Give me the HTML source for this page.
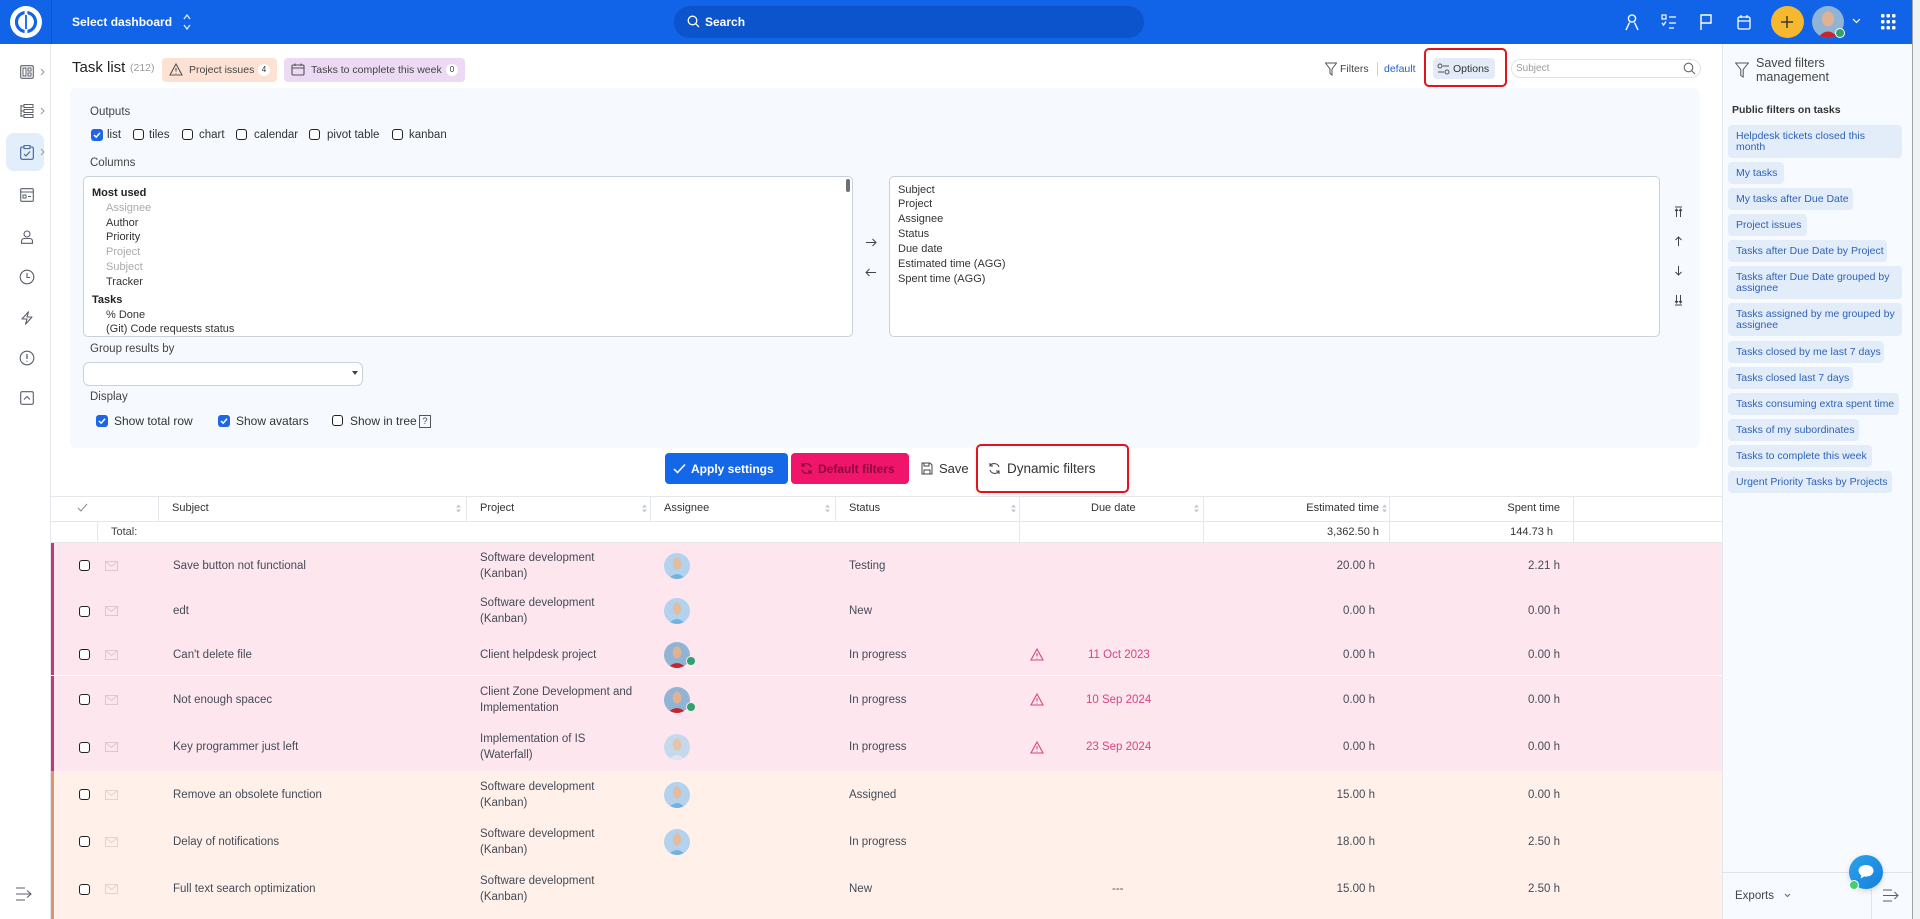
<!DOCTYPE html>
<html><head><meta charset="utf-8">
<style>
*{box-sizing:border-box;margin:0;padding:0}
html,body{width:1920px;height:919px;overflow:hidden;background:#fff}
body{position:relative;font-family:"Liberation Sans",Arial,sans-serif;color:#333}
.a{position:absolute;white-space:nowrap}
.t{position:absolute;white-space:nowrap;line-height:14px}
.cb{position:absolute;width:11px;height:11px;border:1.3px solid #222;border-radius:3px;background:#fff}
.cbc{position:absolute;width:12px;height:12px;border-radius:3px;background:#1e66e3}
.cbc svg{position:absolute;left:2px;top:2px}
.row{position:absolute;left:0;width:1722px;font-size:11.5px;color:#454b57}
.pink{background:#fde6ee}
.peach{background:#fff0ea}
.lb{position:absolute;left:51px;top:0;bottom:0;width:3px}
.c{position:absolute;top:0;bottom:0;display:flex;align-items:center;white-space:nowrap}
.r{justify-content:flex-end}
.av{width:26px;height:26px;border-radius:50%;overflow:hidden;position:relative}
.hd{position:absolute;font-size:11px;color:#333;top:501px;line-height:14px;white-space:nowrap}
.vl{position:absolute;width:1px;background:#e4e7eb}
.chip{position:absolute;left:1728px;background:#e3edfa;border-radius:4px;color:#2f62b8;font-size:10.5px;padding-left:8px;line-height:11px;white-space:nowrap}
.chip1{height:22px;padding-top:5.5px}
.chip2{height:33px;padding-top:6px}
.lst{position:absolute;font-size:11px;line-height:14px;white-space:nowrap;color:#333}
.gr{color:#aaa}
.sb svg{position:absolute}
</style></head><body>

<!-- TOP BAR -->
<div class="a" style="left:0;top:0;width:1912px;height:44px;background:#1164e8"></div>
<svg class="a" style="left:10px;top:6px" width="32" height="32" viewBox="0 0 32 32"><circle cx="16" cy="16" r="16" fill="#fff"/><circle cx="16" cy="16" r="9.5" fill="none" stroke="#1164e8" stroke-width="3.2"/><rect x="14.6" y="5" width="2.8" height="22" fill="#fff"/><rect x="15.1" y="9" width="1.8" height="14" fill="#1164e8"/></svg>
<div class="a" style="left:51px;top:0;width:1px;height:44px;background:rgba(0,0,0,.12)"></div>
<div class="t" style="left:72px;top:15px;font-size:12px;font-weight:bold;color:#fff">Select dashboard</div>
<svg class="a" style="left:182px;top:12px" width="10" height="20" viewBox="0 0 10 20"><path d="M2 7 L5 3 L8 7 M2 13 L5 17 L8 13" fill="none" stroke="#dfe9ff" stroke-width="1.3"/></svg>
<div class="a" style="left:674px;top:6px;width:470px;height:32px;border-radius:16px;background:#0c54cb"></div>
<svg class="a" style="left:687px;top:15px" width="13" height="13" viewBox="0 0 13 13"><circle cx="5.5" cy="5.5" r="4.3" fill="none" stroke="#fff" stroke-width="1.3"/><path d="M8.6 8.6 L12 12" stroke="#fff" stroke-width="1.3"/></svg>
<div class="t" style="left:705px;top:15px;font-size:12px;font-weight:bold;color:#fff">Search</div>
<!-- top icons -->
<svg class="a" style="left:1623px;top:13px" width="18" height="18" viewBox="0 0 18 18"><circle cx="9" cy="5.5" r="3.6" fill="none" stroke="#fff" stroke-width="1.4"/><path d="M3 17 L6.5 9.5 M15 17 L11.5 9.5" fill="none" stroke="#fff" stroke-width="1.4"/></svg>
<svg class="a" style="left:1660px;top:13px" width="18" height="18" viewBox="0 0 18 18"><rect x="2" y="2" width="4" height="4" fill="none" stroke="#fff" stroke-width="1.2"/><path d="M9 4 H16 M9 10 H16 M9 15 H14 M2 10 L3.5 12 L6 8.5" fill="none" stroke="#fff" stroke-width="1.3"/></svg>
<svg class="a" style="left:1697px;top:13px" width="18" height="18" viewBox="0 0 18 18"><path d="M4 17 V2 H14 V10 H4" fill="none" stroke="#fff" stroke-width="1.4"/></svg>
<svg class="a" style="left:1735px;top:13px" width="18" height="18" viewBox="0 0 18 18"><rect x="3" y="4" width="12" height="12" rx="1.5" fill="none" stroke="#fff" stroke-width="1.3"/><path d="M3 8 H15 M6 2 V5 M12 2 V5" stroke="#fff" stroke-width="1.3"/></svg>
<div class="a" style="left:1771px;top:6px;width:33px;height:32px;border-radius:50%;background:#f5b82e"></div>
<svg class="a" style="left:1779px;top:14px" width="16" height="16" viewBox="0 0 16 16"><path d="M8 2 V14 M2 8 H14" stroke="#3a3a3a" stroke-width="1.5"/></svg>
<div class="a" style="left:1812px;top:6px;width:32px;height:32px;border-radius:50%;overflow:hidden;background:#8fb4d6"><svg width="32" height="32" viewBox="0 0 32 32"><ellipse cx="16" cy="13" rx="6" ry="7.5" fill="#e0b294"/><path d="M4 34 Q16 17 28 34Z" fill="#c7242c"/></svg></div>
<div class="a" style="left:1835px;top:28px;width:10px;height:10px;border-radius:50%;background:#2fa36b;border:1px solid #fff"></div>
<svg class="a" style="left:1852px;top:18px" width="9" height="6" viewBox="0 0 9 6"><path d="M1 1 L4.5 4.5 L8 1" fill="none" stroke="#fff" stroke-width="1.2"/></svg>
<svg class="a" style="left:1881px;top:14px" width="15" height="16" viewBox="0 0 15 16"><g fill="#fff"><rect x="0" y="0" width="3.5" height="3.5" rx="1"/><rect x="5.5" y="0" width="3.5" height="3.5" rx="1"/><rect x="11" y="0" width="3.5" height="3.5" rx="1"/><rect x="0" y="6" width="3.5" height="3.5" rx="1"/><rect x="5.5" y="6" width="3.5" height="3.5" rx="1"/><rect x="11" y="6" width="3.5" height="3.5" rx="1"/><rect x="0" y="12" width="3.5" height="3.5" rx="1"/><rect x="5.5" y="12" width="3.5" height="3.5" rx="1"/><rect x="11" y="12" width="3.5" height="3.5" rx="1"/></g></svg>
<!-- scrollbar strip -->
<div class="a" style="left:1912px;top:0;width:8px;height:919px;background:#f1f2f4;border-left:1px solid #9ea3aa"></div>

<!-- HEADER -->
<div class="a" style="left:72px;top:59px;font-size:15px;color:#222;line-height:18px">Task list</div>
<div class="a" style="left:130px;top:62px;font-size:10.5px;color:#9a9a9a;line-height:12px">(212)</div>
<div class="a" style="left:162px;top:58px;width:115px;height:24px;background:#fde2d4;border-radius:4px"></div>
<svg class="a" style="left:169px;top:63px" width="14" height="13" viewBox="0 0 14 13"><path d="M7 1 L13 12 H1 Z M7 5 V8.5 M7 10 V10.6" fill="none" stroke="#555" stroke-width="1.1"/></svg>
<div class="t" style="left:189px;top:63px;font-size:10.5px;color:#444">Project issues</div>
<div class="a" style="left:258px;top:64px;width:12px;height:12px;border-radius:50%;background:#fff;font-size:8px;line-height:12px;text-align:center;color:#333">4</div>
<div class="a" style="left:284px;top:58px;width:181px;height:24px;background:#ecdaf4;border-radius:4px"></div>
<svg class="a" style="left:291px;top:63px" width="14" height="13" viewBox="0 0 14 13"><rect x="1" y="2" width="12" height="10" rx="1" fill="none" stroke="#555" stroke-width="1.1"/><path d="M1 5 H13 M4 0.5 V3 M10 0.5 V3" stroke="#555" stroke-width="1.1"/></svg>
<div class="t" style="left:311px;top:63px;font-size:10.5px;color:#444">Tasks to complete this week</div>
<div class="a" style="left:446px;top:64px;width:12px;height:12px;border-radius:50%;background:#fff;font-size:8px;line-height:12px;text-align:center;color:#333">0</div>

<svg class="a" style="left:1325px;top:62px" width="12" height="14" viewBox="0 0 12 14"><path d="M0.5 1 H11.5 L7 7 V13 L5 11.5 V7 Z" fill="none" stroke="#555" stroke-width="1"/></svg>
<div class="t" style="left:1340px;top:62px;font-size:10.5px;color:#444">Filters</div>
<div class="a" style="left:1377px;top:62px;width:1px;height:14px;background:#ccd2da"></div>
<div class="t" style="left:1384px;top:62px;font-size:10.5px;color:#1f5fcf">default</div>
<div class="a" style="left:1424px;top:48px;width:83px;height:39px;border:2px solid #e0141c;border-radius:5px"></div>
<div class="a" style="left:1433px;top:58px;width:62px;height:21px;background:#e2ebf7;border-radius:4px"></div>
<svg class="a" style="left:1437px;top:63px" width="13" height="12" viewBox="0 0 13 12"><circle cx="3" cy="3" r="2" fill="none" stroke="#555"/><circle cx="10" cy="9" r="2" fill="none" stroke="#555"/><path d="M6 3 H12 M1 9 H7" stroke="#555"/></svg>
<div class="t" style="left:1453px;top:62px;font-size:10.5px;color:#333">Options</div>
<div class="a" style="left:1511px;top:59px;width:190px;height:19px;border:1px solid #dfe3e8;border-radius:10px;background:#fff"></div>
<div class="t" style="left:1516px;top:62px;font-size:10px;color:#9a9a9a">Subject</div>
<svg class="a" style="left:1683px;top:62px" width="13" height="13" viewBox="0 0 13 13"><circle cx="5.5" cy="5.5" r="4.3" fill="none" stroke="#666" stroke-width="1.1"/><path d="M8.6 8.6 L12 12" stroke="#666" stroke-width="1.1"/></svg>

<!-- OPTIONS PANEL -->
<div class="a" style="left:70px;top:88px;width:1630px;height:360px;background:#f6f9fd;border-radius:6px"></div>
<div class="t" style="left:90px;top:105px;font-size:11.5px;color:#444">Outputs</div>
<div class="cbc" style="left:91px;top:129px"><svg width="8" height="8" viewBox="0 0 8 8"><path d="M1 4 L3.2 6.2 L7 1.8" fill="none" stroke="#fff" stroke-width="1.5"/></svg></div>
<div class="t" style="left:107px;top:128px;font-size:11.5px">list</div>
<div class="cb" style="left:133px;top:129px"></div><div class="t" style="left:149px;top:128px;font-size:11.5px">tiles</div>
<div class="cb" style="left:182px;top:129px"></div><div class="t" style="left:199px;top:128px;font-size:11.5px">chart</div>
<div class="cb" style="left:236px;top:129px"></div><div class="t" style="left:254px;top:128px;font-size:11.5px">calendar</div>
<div class="cb" style="left:309px;top:129px"></div><div class="t" style="left:327px;top:128px;font-size:11.5px">pivot table</div>
<div class="cb" style="left:392px;top:129px"></div><div class="t" style="left:409px;top:128px;font-size:11.5px">kanban</div>

<div class="t" style="left:90px;top:156px;font-size:11.5px;color:#444">Columns</div>
<div class="a" style="left:83px;top:176px;width:770px;height:161px;background:#fff;border:1px solid #c9d1db;border-radius:5px"></div>
<div class="a" style="left:846px;top:179px;width:4px;height:13px;background:#6b6f76;border-radius:2px"></div>
<div class="lst" style="left:92px;top:186px;font-weight:bold;color:#222">Most used</div>
<div class="lst gr" style="left:106px;top:201px">Assignee</div>
<div class="lst" style="left:106px;top:216px">Author</div>
<div class="lst" style="left:106px;top:230px">Priority</div>
<div class="lst gr" style="left:106px;top:245px">Project</div>
<div class="lst gr" style="left:106px;top:260px">Subject</div>
<div class="lst" style="left:106px;top:275px">Tracker</div>
<div class="lst" style="left:92px;top:293px;font-weight:bold;color:#222">Tasks</div>
<div class="lst" style="left:106px;top:308px">% Done</div>
<div class="lst" style="left:106px;top:322px">(Git) Code requests status</div>

<svg class="a" style="left:865px;top:238px" width="12" height="9" viewBox="0 0 12 9"><path d="M1 4.5 H11 M7.5 1 L11 4.5 L7.5 8" fill="none" stroke="#444" stroke-width="1"/></svg>
<svg class="a" style="left:865px;top:268px" width="12" height="9" viewBox="0 0 12 9"><path d="M1 4.5 H11 M4.5 1 L1 4.5 L4.5 8" fill="none" stroke="#444" stroke-width="1"/></svg>

<div class="a" style="left:889px;top:176px;width:771px;height:161px;background:#fff;border:1px solid #c9d1db;border-radius:5px"></div>
<div class="lst" style="left:898px;top:183px">Subject</div>
<div class="lst" style="left:898px;top:197px">Project</div>
<div class="lst" style="left:898px;top:212px">Assignee</div>
<div class="lst" style="left:898px;top:227px">Status</div>
<div class="lst" style="left:898px;top:242px">Due date</div>
<div class="lst" style="left:898px;top:257px">Estimated time (AGG)</div>
<div class="lst" style="left:898px;top:272px">Spent time (AGG)</div>

<svg class="a" style="left:1674px;top:206px" width="9" height="12" viewBox="0 0 9 12"><path d="M1 1 H8 M2.5 11 V3 M6.5 11 V3 M1 5 L2.5 3 L4 5 M5 5 L6.5 3 L8 5" fill="none" stroke="#444" stroke-width="1"/></svg>
<svg class="a" style="left:1674px;top:235px" width="9" height="12" viewBox="0 0 9 12"><path d="M4.5 11 V2 M1.5 5 L4.5 2 L7.5 5" fill="none" stroke="#444" stroke-width="1"/></svg>
<svg class="a" style="left:1674px;top:265px" width="9" height="12" viewBox="0 0 9 12"><path d="M4.5 1 V10 M1.5 7 L4.5 10 L7.5 7" fill="none" stroke="#444" stroke-width="1"/></svg>
<svg class="a" style="left:1674px;top:294px" width="9" height="12" viewBox="0 0 9 12"><path d="M1 11 H8 M2.5 1 V9 M6.5 1 V9 M1 7 L2.5 9 L4 7 M5 7 L6.5 9 L8 7" fill="none" stroke="#444" stroke-width="1"/></svg>

<div class="t" style="left:90px;top:342px;font-size:11.5px;color:#444">Group results by</div>
<div class="a" style="left:83px;top:362px;width:280px;height:24px;background:#fff;border:1px solid #c9d1db;border-radius:6px"></div>
<svg class="a" style="left:352px;top:371px" width="6" height="4" viewBox="0 0 6 4"><path d="M0 0 H6 L3 4Z" fill="#444"/></svg>
<div class="t" style="left:90px;top:390px;font-size:11.5px;color:#444">Display</div>
<div class="cbc" style="left:96px;top:415px"><svg width="8" height="8" viewBox="0 0 8 8"><path d="M1 4 L3.2 6.2 L7 1.8" fill="none" stroke="#fff" stroke-width="1.5"/></svg></div>
<div class="t" style="left:114px;top:414px;font-size:12px">Show total row</div>
<div class="cbc" style="left:218px;top:415px"><svg width="8" height="8" viewBox="0 0 8 8"><path d="M1 4 L3.2 6.2 L7 1.8" fill="none" stroke="#fff" stroke-width="1.5"/></svg></div>
<div class="t" style="left:236px;top:414px;font-size:12px">Show avatars</div>
<div class="cb" style="left:332px;top:415px"></div>
<div class="t" style="left:350px;top:414px;font-size:12px">Show in tree</div>
<div class="a" style="left:419px;top:415px;width:12px;height:13px;border:1px solid #555;font-size:9px;line-height:11px;text-align:center;color:#444">?</div>

<!-- BUTTONS -->
<div class="a" style="left:665px;top:453px;width:123px;height:31px;background:#1367e8;border-radius:4px"></div>
<svg class="a" style="left:673px;top:463px" width="13" height="11" viewBox="0 0 13 11"><path d="M1 6 L4.5 9.5 L12 1.5" fill="none" stroke="#fff" stroke-width="1.5"/></svg>
<div class="t" style="left:691px;top:462px;font-size:12px;font-weight:bold;color:#fff">Apply settings</div>
<div class="a" style="left:791px;top:453px;width:118px;height:31px;background:#f0156b;border-radius:4px"></div>
<svg class="a" style="left:800px;top:462px" width="13" height="13" viewBox="0 0 13 13"><path d="M11 5 A5 5 0 0 0 2 4 M2 8 A5 5 0 0 0 11 9 M2 1 V4 H5 M11 12 V9 H8" fill="none" stroke="#8a0c3c" stroke-width="1.2"/></svg>
<div class="t" style="left:818px;top:462px;font-size:12px;font-weight:bold;color:#8a0c3c">Default filters</div>
<svg class="a" style="left:921px;top:462px" width="12" height="13" viewBox="0 0 12 13"><path d="M1 1 H9 L11 3 V12 H1 Z M3 1 V4 H8 V1 M3 12 V8 H9 V12" fill="none" stroke="#444" stroke-width="1"/></svg>
<div class="t" style="left:939px;top:462px;font-size:13px;color:#333">Save</div>
<div class="a" style="left:976px;top:444px;width:153px;height:49px;border:2px solid #e0141c;border-radius:5px;box-shadow:0 2px 6px rgba(0,0,0,.08)"></div>
<svg class="a" style="left:988px;top:462px" width="13" height="13" viewBox="0 0 13 13"><path d="M11 5 A5 5 0 0 0 2 4 M2 8 A5 5 0 0 0 11 9 M2 1 V4 H5 M11 12 V9 H8" fill="none" stroke="#444" stroke-width="1.1"/></svg>
<div class="t" style="left:1007px;top:462px;font-size:13.5px;color:#333">Dynamic filters</div>

<!-- TABLE HEADER -->
<div class="a" style="left:51px;top:496px;width:1671px;height:47px;border-top:1px solid #e4e7eb;background:#fff"></div>
<div class="a" style="left:51px;top:521px;width:1671px;height:1px;background:#e4e7eb"></div>
<div class="a" style="left:51px;top:542px;width:1671px;height:1px;background:#e4e7eb"></div>
<div class="vl" style="left:158px;top:497px;height:24px"></div>
<div class="vl" style="left:466px;top:497px;height:24px"></div>
<div class="vl" style="left:650px;top:497px;height:24px"></div>
<div class="vl" style="left:835px;top:497px;height:24px"></div>
<div class="vl" style="left:1019px;top:497px;height:45px"></div>
<div class="vl" style="left:1203px;top:497px;height:45px"></div>
<div class="vl" style="left:1389px;top:497px;height:45px"></div>
<div class="vl" style="left:1573px;top:497px;height:45px"></div>
<div class="vl" style="left:97px;top:522px;height:20px"></div>
<svg class="a" style="left:77px;top:503px" width="11" height="9" viewBox="0 0 11 9"><path d="M1 5 L4 8 L10 1" fill="none" stroke="#888" stroke-width="1"/></svg>
<div class="hd" style="left:172px">Subject</div>
<div class="hd" style="left:480px">Project</div>
<div class="hd" style="left:664px">Assignee</div>
<div class="hd" style="left:849px">Status</div>
<div class="hd" style="left:1091px">Due date</div>
<div class="hd" style="left:1259px;width:120px;text-align:right">Estimated time</div>
<div class="hd" style="left:1440px;width:120px;text-align:right">Spent time</div>
<svg class="a" style="left:456px;top:504px" width="5" height="9" viewBox="0 0 5 9"><path d="M0 3.5 L2.5 0.5 L5 3.5Z M0 5.5 L2.5 8.5 L5 5.5Z" fill="#c3c7cd"/></svg>
<svg class="a" style="left:642px;top:504px" width="5" height="9" viewBox="0 0 5 9"><path d="M0 3.5 L2.5 0.5 L5 3.5Z M0 5.5 L2.5 8.5 L5 5.5Z" fill="#c3c7cd"/></svg>
<svg class="a" style="left:825px;top:504px" width="5" height="9" viewBox="0 0 5 9"><path d="M0 3.5 L2.5 0.5 L5 3.5Z M0 5.5 L2.5 8.5 L5 5.5Z" fill="#c3c7cd"/></svg>
<svg class="a" style="left:1011px;top:504px" width="5" height="9" viewBox="0 0 5 9"><path d="M0 3.5 L2.5 0.5 L5 3.5Z M0 5.5 L2.5 8.5 L5 5.5Z" fill="#c3c7cd"/></svg>
<svg class="a" style="left:1194px;top:504px" width="5" height="9" viewBox="0 0 5 9"><path d="M0 3.5 L2.5 0.5 L5 3.5Z M0 5.5 L2.5 8.5 L5 5.5Z" fill="#c3c7cd"/></svg>
<svg class="a" style="left:1382px;top:504px" width="5" height="9" viewBox="0 0 5 9"><path d="M0 3.5 L2.5 0.5 L5 3.5Z M0 5.5 L2.5 8.5 L5 5.5Z" fill="#c3c7cd"/></svg>
<div class="t" style="left:111px;top:525px;font-size:11px;color:#444">Total:</div>
<div class="t" style="left:1259px;width:120px;text-align:right;top:525px;font-size:11px;color:#333">3,362.50 h</div>
<div class="t" style="left:1433px;width:120px;text-align:right;top:525px;font-size:11px;color:#333">144.73 h</div>

<!-- ROWS -->
<!-- row 1 -->
<div class="row pink" style="top:543px;height:45px">
 <div class="lb" style="background:#c0397a"></div>
 <div class="c" style="left:79px"><span class="cb" style="position:static;display:block"></span></div>
 <div class="c" style="left:105px"><svg width="13" height="10" viewBox="0 0 13 10"><rect x="0.5" y="0.5" width="12" height="9" fill="none" stroke="#dcc9d0"/><path d="M0.5 0.5 L6.5 5.5 L12.5 0.5" fill="none" stroke="#dcc9d0"/></svg></div>
 <div class="c" style="left:173px">Save button not functional</div>
 <div class="c" style="left:480px;line-height:16px">Software development<br>(Kanban)</div>
 <div class="c" style="left:664px"><div class="av"><svg width="26" height="26" viewBox="0 0 26 26"><rect width="26" height="26" fill="#b3d2ee"/><ellipse cx="13" cy="10.5" rx="4.2" ry="6" fill="#e2bc9f"/><path d="M3 28 Q13 14 23 28Z" fill="#74b2de"/></svg></div></div>
 <div class="c" style="left:849px">Testing</div>
 <div class="c r" style="right:347px">20.00 h</div>
 <div class="c r" style="right:162px">2.21 h</div>
</div>
<!-- row 2 -->
<div class="row pink" style="top:588px;height:46px">
 <div class="lb" style="background:#c0397a"></div>
 <div class="c" style="left:79px"><span class="cb" style="position:static;display:block"></span></div>
 <div class="c" style="left:105px"><svg width="13" height="10" viewBox="0 0 13 10"><rect x="0.5" y="0.5" width="12" height="9" fill="none" stroke="#dcc9d0"/><path d="M0.5 0.5 L6.5 5.5 L12.5 0.5" fill="none" stroke="#dcc9d0"/></svg></div>
 <div class="c" style="left:173px">edt</div>
 <div class="c" style="left:480px;line-height:16px">Software development<br>(Kanban)</div>
 <div class="c" style="left:664px"><div class="av"><svg width="26" height="26" viewBox="0 0 26 26"><rect width="26" height="26" fill="#b3d2ee"/><ellipse cx="13" cy="10.5" rx="4.2" ry="6" fill="#e2bc9f"/><path d="M3 28 Q13 14 23 28Z" fill="#74b2de"/></svg></div></div>
 <div class="c" style="left:849px">New</div>
 <div class="c r" style="right:347px">0.00 h</div>
 <div class="c r" style="right:162px">0.00 h</div>
</div>
<!-- row 3 -->
<div class="row pink" style="top:634px;height:41px">
 <div class="lb" style="background:#c0397a"></div>
 <div class="c" style="left:79px"><span class="cb" style="position:static;display:block"></span></div>
 <div class="c" style="left:105px"><svg width="13" height="10" viewBox="0 0 13 10"><rect x="0.5" y="0.5" width="12" height="9" fill="none" stroke="#dcc9d0"/><path d="M0.5 0.5 L6.5 5.5 L12.5 0.5" fill="none" stroke="#dcc9d0"/></svg></div>
 <div class="c" style="left:173px">Can't delete file</div>
 <div class="c" style="left:480px">Client helpdesk project</div>
 <div class="c" style="left:664px"><div class="av"><svg width="26" height="26" viewBox="0 0 26 26"><rect width="26" height="26" fill="#8fb4d6"/><ellipse cx="13" cy="10.5" rx="4.4" ry="6" fill="#e0b294"/><path d="M2 28 Q13 14 24 28Z" fill="#c7242c"/></svg></div></div>
 <div class="c" style="left:686px;top:12px"><span style="display:block;width:10px;height:10px;border-radius:50%;background:#2fa36b;border:1px solid #fde6ee"></span></div>
 <div class="c" style="left:849px">In progress</div>
 <div class="c" style="left:1030px"><svg width="14" height="13" viewBox="0 0 14 13"><path d="M7 1 L13 12 H1 Z M7 5 V8.5 M7 10 V10.6" fill="none" stroke="#d6457f" stroke-width="1.1"/></svg></div>
 <div class="c" style="left:1088px;color:#d6457f">11 Oct 2023</div>
 <div class="c r" style="right:347px">0.00 h</div>
 <div class="c r" style="right:162px">0.00 h</div>
</div>
<div class="a" style="left:51px;top:675px;width:1671px;height:1px;background:#fff"></div>
<!-- row 4 -->
<div class="row pink" style="top:676px;height:47px">
 <div class="lb" style="background:#c0397a"></div>
 <div class="c" style="left:79px"><span class="cb" style="position:static;display:block"></span></div>
 <div class="c" style="left:105px"><svg width="13" height="10" viewBox="0 0 13 10"><rect x="0.5" y="0.5" width="12" height="9" fill="none" stroke="#dcc9d0"/><path d="M0.5 0.5 L6.5 5.5 L12.5 0.5" fill="none" stroke="#dcc9d0"/></svg></div>
 <div class="c" style="left:173px">Not enough spacec</div>
 <div class="c" style="left:480px;line-height:16px">Client Zone Development and<br>Implementation</div>
 <div class="c" style="left:664px"><div class="av"><svg width="26" height="26" viewBox="0 0 26 26"><rect width="26" height="26" fill="#8fb4d6"/><ellipse cx="13" cy="10.5" rx="4.4" ry="6" fill="#e0b294"/><path d="M2 28 Q13 14 24 28Z" fill="#c7242c"/></svg></div></div>
 <div class="c" style="left:686px;top:14px"><span style="display:block;width:10px;height:10px;border-radius:50%;background:#2fa36b;border:1px solid #fde6ee"></span></div>
 <div class="c" style="left:849px">In progress</div>
 <div class="c" style="left:1030px"><svg width="14" height="13" viewBox="0 0 14 13"><path d="M7 1 L13 12 H1 Z M7 5 V8.5 M7 10 V10.6" fill="none" stroke="#d6457f" stroke-width="1.1"/></svg></div>
 <div class="c" style="left:1086px;color:#d6457f">10 Sep 2024</div>
 <div class="c r" style="right:347px">0.00 h</div>
 <div class="c r" style="right:162px">0.00 h</div>
</div>
<!-- row 5 -->
<div class="row pink" style="top:723px;height:48px">
 <div class="lb" style="background:#c0397a"></div>
 <div class="c" style="left:79px"><span class="cb" style="position:static;display:block"></span></div>
 <div class="c" style="left:105px"><svg width="13" height="10" viewBox="0 0 13 10"><rect x="0.5" y="0.5" width="12" height="9" fill="none" stroke="#dcc9d0"/><path d="M0.5 0.5 L6.5 5.5 L12.5 0.5" fill="none" stroke="#dcc9d0"/></svg></div>
 <div class="c" style="left:173px">Key programmer just left</div>
 <div class="c" style="left:480px;line-height:16px">Implementation of IS<br>(Waterfall)</div>
 <div class="c" style="left:664px"><div class="av"><svg width="26" height="26" viewBox="0 0 26 26"><rect width="26" height="26" fill="#c5d9ec"/><ellipse cx="13" cy="10.5" rx="4.3" ry="6" fill="#e7c3a8"/><path d="M3 28 Q13 14 23 28Z" fill="#dde6ef"/></svg></div></div>
 <div class="c" style="left:849px">In progress</div>
 <div class="c" style="left:1030px"><svg width="14" height="13" viewBox="0 0 14 13"><path d="M7 1 L13 12 H1 Z M7 5 V8.5 M7 10 V10.6" fill="none" stroke="#d6457f" stroke-width="1.1"/></svg></div>
 <div class="c" style="left:1086px;color:#d6457f">23 Sep 2024</div>
 <div class="c r" style="right:347px">0.00 h</div>
 <div class="c r" style="right:162px">0.00 h</div>
</div>
<!-- row 6 -->
<div class="row peach" style="top:771px;height:47px">
 <div class="lb" style="background:#de946f"></div>
 <div class="c" style="left:79px"><span class="cb" style="position:static;display:block"></span></div>
 <div class="c" style="left:105px"><svg width="13" height="10" viewBox="0 0 13 10"><rect x="0.5" y="0.5" width="12" height="9" fill="none" stroke="#e3d3cc"/><path d="M0.5 0.5 L6.5 5.5 L12.5 0.5" fill="none" stroke="#e3d3cc"/></svg></div>
 <div class="c" style="left:173px">Remove an obsolete function</div>
 <div class="c" style="left:480px;line-height:16px">Software development<br>(Kanban)</div>
 <div class="c" style="left:664px"><div class="av"><svg width="26" height="26" viewBox="0 0 26 26"><rect width="26" height="26" fill="#b3d2ee"/><ellipse cx="13" cy="10.5" rx="4.2" ry="6" fill="#e2bc9f"/><path d="M3 28 Q13 14 23 28Z" fill="#74b2de"/></svg></div></div>
 <div class="c" style="left:849px">Assigned</div>
 <div class="c r" style="right:347px">15.00 h</div>
 <div class="c r" style="right:162px">0.00 h</div>
</div>
<!-- row 7 -->
<div class="row peach" style="top:818px;height:47px">
 <div class="lb" style="background:#de946f"></div>
 <div class="c" style="left:79px"><span class="cb" style="position:static;display:block"></span></div>
 <div class="c" style="left:105px"><svg width="13" height="10" viewBox="0 0 13 10"><rect x="0.5" y="0.5" width="12" height="9" fill="none" stroke="#e3d3cc"/><path d="M0.5 0.5 L6.5 5.5 L12.5 0.5" fill="none" stroke="#e3d3cc"/></svg></div>
 <div class="c" style="left:173px">Delay of notifications</div>
 <div class="c" style="left:480px;line-height:16px">Software development<br>(Kanban)</div>
 <div class="c" style="left:664px"><div class="av"><svg width="26" height="26" viewBox="0 0 26 26"><rect width="26" height="26" fill="#b3d2ee"/><ellipse cx="13" cy="10.5" rx="4.2" ry="6" fill="#e2bc9f"/><path d="M3 28 Q13 14 23 28Z" fill="#74b2de"/></svg></div></div>
 <div class="c" style="left:849px">In progress</div>
 <div class="c r" style="right:347px">18.00 h</div>
 <div class="c r" style="right:162px">2.50 h</div>
</div>
<!-- row 8 -->
<div class="row peach" style="top:865px;height:54px">
 <div class="lb" style="background:#de946f"></div>
 <div style="position:absolute;left:0;top:0;width:1722px;height:48px">
 <div class="c" style="left:79px"><span class="cb" style="position:static;display:block"></span></div>
 <div class="c" style="left:105px"><svg width="13" height="10" viewBox="0 0 13 10"><rect x="0.5" y="0.5" width="12" height="9" fill="none" stroke="#e3d3cc"/><path d="M0.5 0.5 L6.5 5.5 L12.5 0.5" fill="none" stroke="#e3d3cc"/></svg></div>
 <div class="c" style="left:173px">Full text search optimization</div>
 <div class="c" style="left:480px;line-height:16px">Software development<br>(Kanban)</div>
 <div class="c" style="left:849px">New</div>
 <div class="c" style="left:1112px;color:#555">---</div>
 <div class="c r" style="right:347px">15.00 h</div>
 <div class="c r" style="right:162px">2.50 h</div>
 </div>
</div>

<!-- LEFT SIDEBAR -->
<div class="a sb" style="left:0;top:44px;width:51px;height:875px;background:#fff;border-right:1px solid #e5e8ed;z-index:5">
 <div class="a" style="left:6px;top:89px;width:38px;height:38px;background:#e3eefb;border-radius:8px"></div>
 <svg style="left:20px;top:21px" width="14" height="14" viewBox="0 0 14 14"><rect x="0.7" y="0.7" width="12.6" height="12.6" rx="1.5" fill="none" stroke="#5a5f69" stroke-width="1.1"/><rect x="3" y="3" width="3" height="8" fill="none" stroke="#5a5f69"/><rect x="8" y="3" width="3" height="3" fill="none" stroke="#5a5f69"/><rect x="8" y="8" width="3" height="3" fill="none" stroke="#5a5f69"/></svg>
 <svg style="left:20px;top:60px" width="14" height="14" viewBox="0 0 14 14"><path d="M1 1 V13 M1 2 H4 M1 7 H4 M1 12 H4" fill="none" stroke="#5a5f69" stroke-width="1.1"/><rect x="4" y="0.5" width="9" height="3" fill="none" stroke="#5a5f69"/><rect x="4" y="5.5" width="9" height="3" fill="none" stroke="#5a5f69"/><rect x="4" y="10.5" width="9" height="3" fill="none" stroke="#5a5f69"/></svg>
 <svg style="left:20px;top:101px" width="14" height="15" viewBox="0 0 14 15"><rect x="0.7" y="2" width="12.6" height="12.3" rx="1.5" fill="none" stroke="#3d5f9a" stroke-width="1.1"/><rect x="4" y="0.6" width="6" height="3" fill="#e3eefb" stroke="#3d5f9a"/><path d="M4 9 L6 11 L10 6.5" fill="none" stroke="#3d5f9a" stroke-width="1.1"/></svg>
 <svg style="left:20px;top:144px" width="14" height="14" viewBox="0 0 14 14"><rect x="0.7" y="0.7" width="12.6" height="12.6" rx="1" fill="none" stroke="#5a5f69" stroke-width="1.1"/><path d="M0.7 4 H13.3" stroke="#5a5f69"/><rect x="3" y="7" width="3" height="3" fill="none" stroke="#5a5f69"/><path d="M8 8.5 H11" stroke="#5a5f69"/></svg>
 <svg style="left:20px;top:186px" width="14" height="14" viewBox="0 0 14 14"><circle cx="7" cy="4" r="3" fill="none" stroke="#5a5f69" stroke-width="1.1"/><path d="M1.5 13.3 V11.5 Q1.5 8.5 4.5 8.5 H9.5 Q12.5 8.5 12.5 11.5 V13.3 Z" fill="none" stroke="#5a5f69" stroke-width="1.1"/></svg>
 <svg style="left:19px;top:225px" width="16" height="16" viewBox="0 0 16 16"><circle cx="8" cy="8" r="6.8" fill="none" stroke="#5a5f69" stroke-width="1.1"/><path d="M8 4 V8.5 H11" fill="none" stroke="#5a5f69" stroke-width="1.1"/></svg>
 <svg style="left:20px;top:267px" width="14" height="14" viewBox="0 0 14 14"><path d="M8.5 0.8 L2 8 H7 L5.5 13.2 L12 6 H7 Z" fill="none" stroke="#5a5f69" stroke-width="1.1" stroke-linejoin="round"/></svg>
 <svg style="left:19px;top:306px" width="16" height="16" viewBox="0 0 16 16"><circle cx="8" cy="8" r="6.8" fill="none" stroke="#5a5f69" stroke-width="1.1"/><path d="M8 4 V9 M8 10.8 V11.6" stroke="#5a5f69" stroke-width="1.3"/></svg>
 <svg style="left:20px;top:347px" width="14" height="14" viewBox="0 0 14 14"><rect x="0.7" y="0.7" width="12.6" height="12.6" rx="1.5" fill="none" stroke="#5a5f69" stroke-width="1.1"/><path d="M4 8.5 L7 5.5 L10 8.5" fill="none" stroke="#5a5f69" stroke-width="1.1"/></svg>
 <svg style="left:40px;top:24px" width="5" height="8" viewBox="0 0 5 8"><path d="M1 1 L4 4 L1 7" fill="none" stroke="#999"/></svg>
 <svg style="left:40px;top:63px" width="5" height="8" viewBox="0 0 5 8"><path d="M1 1 L4 4 L1 7" fill="none" stroke="#999"/></svg>
 <svg style="left:40px;top:104px" width="5" height="8" viewBox="0 0 5 8"><path d="M1 1 L4 4 L1 7" fill="none" stroke="#999"/></svg>
 <svg style="left:15px;top:843px" width="18" height="14" viewBox="0 0 18 14"><path d="M1 1 H10 M1 7 H16 M1 13 H10 M12 3.5 L16 7 L12 10.5" fill="none" stroke="#5a5f69" stroke-width="1.1"/></svg>
</div>

<!-- RIGHT PANEL -->
<div class="a" style="left:1722px;top:44px;width:190px;height:875px;background:#f7fafe;border-left:1px solid #e3e7ee"></div>
<svg class="a" style="left:1735px;top:62px" width="14" height="16" viewBox="0 0 14 16"><path d="M0.6 1 H13.4 L8.2 7.5 V15 L5.8 13.5 V7.5 Z" fill="none" stroke="#555" stroke-width="1"/></svg>
<div class="a" style="left:1756px;top:57px;font-size:12.5px;line-height:13.5px;color:#444">Saved filters<br>management</div>
<div class="t" style="left:1732px;top:103px;font-size:10.5px;font-weight:bold;color:#333">Public filters on tasks</div>
<div class="chip chip2" style="top:125px;width:174px">Helpdesk tickets closed this<br>month</div>
<div class="chip chip1" style="top:162px;width:56px">My tasks</div>
<div class="chip chip1" style="top:188px;width:125px">My tasks after Due Date</div>
<div class="chip chip1" style="top:214px;width:79px">Project issues</div>
<div class="chip chip1" style="top:240px;width:159px">Tasks after Due Date by Project</div>
<div class="chip chip2" style="top:266px;width:174px">Tasks after Due Date grouped by<br>assignee</div>
<div class="chip chip2" style="top:303px;width:174px">Tasks assigned by me grouped by<br>assignee</div>
<div class="chip chip1" style="top:341px;width:156px">Tasks closed by me last 7 days</div>
<div class="chip chip1" style="top:367px;width:125px">Tasks closed last 7 days</div>
<div class="chip chip1" style="top:393px;width:171px">Tasks consuming extra spent time</div>
<div class="chip chip1" style="top:419px;width:131px">Tasks of my subordinates</div>
<div class="chip chip1" style="top:445px;width:144px">Tasks to complete this week</div>
<div class="chip chip1" style="top:471px;width:164px">Urgent Priority Tasks by Projects</div>

<div class="a" style="left:1722px;top:872px;width:190px;height:1px;background:#e0e4ea"></div>
<div class="t" style="left:1735px;top:889px;font-size:11.5px;color:#444">Exports</div>
<svg class="a" style="left:1784px;top:893px" width="7" height="5" viewBox="0 0 7 5"><path d="M1 1 L3.5 3.5 L6 1" fill="none" stroke="#666"/></svg>
<div class="a" style="left:1871px;top:872px;width:1px;height:47px;background:#e0e4ea"></div>
<svg class="a" style="left:1882px;top:889px" width="18" height="13" viewBox="0 0 18 13"><path d="M1 1 H10 M1 6.5 H16 M1 12 H10 M12.5 3 L16 6.5 L12.5 10" fill="none" stroke="#5a5f69" stroke-width="1"/></svg>
<div class="a" style="left:1849px;top:855px;width:34px;height:34px;border-radius:50%;background:linear-gradient(135deg,#2aa3ea,#1580dc);box-shadow:0 2px 6px rgba(0,0,0,.15)"></div>
<svg class="a" style="left:1857px;top:864px" width="18" height="16" viewBox="0 0 18 16"><path d="M9 1 C4.5 1 1.5 3.5 1.5 6.8 C1.5 8.8 2.6 10.4 4.3 11.4 L3.6 14.5 L7.4 12.4 C7.9 12.5 8.4 12.6 9 12.6 C13.5 12.6 16.5 10.1 16.5 6.8 C16.5 3.5 13.5 1 9 1 Z" fill="#fff"/></svg>
<div class="a" style="left:1849px;top:880px;width:10px;height:10px;border-radius:50%;background:#44d16b;border:1.5px solid #fff"></div>

</body></html>
